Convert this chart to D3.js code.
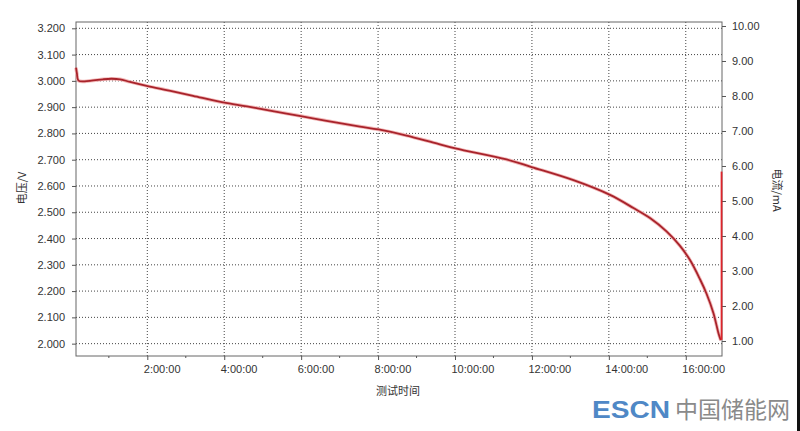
<!DOCTYPE html>
<html>
<head>
<meta charset="utf-8">
<script src="https://cdn.jsdelivr.net/npm/d3@7"></script>
<style>
  body { margin: 0; background: #fff; }
  .axis text { font-family: "Liberation Sans", Arial, sans-serif; font-size: 11px; fill: #333; }
  .axis path, .axis line { stroke: #555; }
</style>
</head>
<body>
<div id="chart"></div>
<script>

// measured test time (hours) and cell voltage (V)
var timeHours = [0.146, 0.17, 0.21, 0.51, 0.85, 1.07, 1.29, 1.55, 2.01, 2.57, 3.19, 3.97, 4.59, 5.19, 5.99,
  6.66, 7.53, 8.01, 8.74, 9.44, 10.01, 11.34, 11.99, 13.08, 14.03, 14.64, 15.07, 15.50, 15.85, 16.11,
  16.37, 16.54, 16.72, 16.85, 16.91];
var voltage = [3.050, 3.028, 3.001, 3.000, 3.006, 3.008, 3.006, 2.996, 2.980, 2.963, 2.943, 2.918, 2.903,
  2.887, 2.866, 2.848, 2.826, 2.815, 2.792, 2.765, 2.743, 2.701, 2.672, 2.622, 2.566, 2.516, 2.478, 2.427,
  2.372, 2.318, 2.245, 2.190, 2.116, 2.040, 2.013];

// current trace (mA) - only visible at the end of the test
var currentTime = [16.93, 16.93];
var current = [1.03, 5.84];

// tick values
var voltTicks = [2.0, 2.1, 2.2, 2.3, 2.4, 2.5, 2.6, 2.7, 2.8, 2.9, 3.0, 3.1, 3.2];
var currTicks = [1, 2, 3, 4, 5, 6, 7, 8, 9, 10];
var hourTicks = [2, 4, 6, 8, 10, 12, 14, 16];
var minorHourTicks = [1, 3, 5, 7, 9, 11, 13, 15];

var width = 800, height = 431;
var plot = {left: 76, top: 22, right: 722, bottom: 356};

var svg = d3.select("#chart")
  .append("svg")
    .attr("width", width)
    .attr("height", height);

var x = d3.scaleLinear()
  .domain([0.146, 16.942])
  .range([plot.left, plot.right]);

var yV = d3.scaleLinear()
  .domain([1.953, 3.224])
  .range([plot.bottom, plot.top]);

var yI = d3.scaleLinear()
  .domain([0.571, 10.114])
  .range([plot.bottom, plot.top]);

// dotted grid
svg.append("g")
  .selectAll("line")
  .data(voltTicks)
  .enter()
  .append("line")
    .attr("x1", plot.left)
    .attr("x2", plot.right)
    .attr("y1", function(d) { return yV(d) })
    .attr("y2", function(d) { return yV(d) })
    .attr("stroke", "#444")
    .attr("stroke-dasharray", "1,2");

svg.append("g")
  .selectAll("line")
  .data(hourTicks)
  .enter()
  .append("line")
    .attr("x1", function(d) { return x(d) })
    .attr("x2", function(d) { return x(d) })
    .attr("y1", plot.top)
    .attr("y2", plot.bottom)
    .attr("stroke", "#444")
    .attr("stroke-dasharray", "1,2");

// frame
svg.append("rect")
  .attr("x", plot.left)
  .attr("y", plot.top)
  .attr("width", plot.right - plot.left)
  .attr("height", plot.bottom - plot.top)
  .attr("fill", "none")
  .attr("stroke", "#666");

// left axis (voltage)
var leftAxis = svg.append("g")
  .attr("class", "axis")
  .attr("transform", "translate(" + plot.left + ",0)")
  .call(d3.axisLeft(yV).tickValues(voltTicks).tickSize(4).tickPadding(7).tickFormat(d3.format(".3f")));
leftAxis.select(".domain").remove();

// right axis (current)
var rightAxis = svg.append("g")
  .attr("class", "axis")
  .attr("transform", "translate(" + plot.right + ",0)")
  .call(d3.axisRight(yI).tickValues(currTicks).tickSize(4).tickPadding(6).tickFormat(d3.format(".2f")));
rightAxis.select(".domain").remove();

// bottom axis (time)
var bottomAxis = svg.append("g")
  .attr("class", "axis")
  .attr("transform", "translate(0," + plot.bottom + ")")
  .call(d3.axisBottom(x).tickValues(hourTicks).tickSize(4).tickPadding(5)
    .tickFormat(function(d) { return d + ":00:00" }));
bottomAxis.select(".domain").remove();
bottomAxis.selectAll("text")
  .attr("text-anchor", "start")
  .attr("x", -4);

svg.append("g")
  .selectAll("line")
  .data(minorHourTicks)
  .enter()
  .append("line")
    .attr("x1", function(d) { return x(d) })
    .attr("x2", function(d) { return x(d) })
    .attr("y1", plot.bottom)
    .attr("y2", plot.bottom + 2)
    .attr("stroke", "#555");

// axis titles
svg.append("text")
  .attr("transform", "translate(26,188) rotate(-90)")
  .attr("text-anchor", "middle")
  .style("font-family", "'Noto Sans CJK SC', sans-serif")
  .style("font-size", "11px")
  .style("fill", "#333")
  .text("电压/V");

svg.append("text")
  .attr("transform", "translate(773,190) rotate(90)")
  .attr("text-anchor", "middle")
  .style("font-family", "'Noto Sans CJK SC', sans-serif")
  .style("font-size", "11px")
  .style("fill", "#333")
  .text("电流/mA");

svg.append("text")
  .attr("x", 398)
  .attr("y", 395)
  .attr("text-anchor", "middle")
  .style("font-family", "'Noto Sans CJK SC', sans-serif")
  .style("font-size", "11px")
  .style("fill", "#333")
  .text("测试时间");

// voltage curve
var voltData = timeHours.map(function(t, i) { return {t: t, v: voltage[i]} });
var voltLine = d3.line()
  .curve(d3.curveCatmullRom.alpha(0.5))
  .x(function(d) { return x(d.t) })
  .y(function(d) { return yV(d.v) });
svg.append("path")
  .datum(voltData)
  .attr("fill", "none")
  .attr("stroke", "#f2b8b8")
  .attr("stroke-width", 3.5)
  .attr("d", voltLine);
svg.append("path")
  .datum(voltData)
  .attr("fill", "none")
  .attr("stroke", "#a8232b")
  .attr("stroke-width", 1.8)
  .attr("d", voltLine);

// current trace
var currData = currentTime.map(function(t, i) { return {t: t, c: current[i]} });
svg.append("path")
  .datum(currData)
  .attr("fill", "none")
  .attr("stroke", "#e0242b")
  .attr("stroke-width", 1.8)
  .attr("d", d3.line()
    .x(function(d) { return x(d.t) })
    .y(function(d) { return yI(d.c) }));

// watermark
var mark = svg.append("text")
  .attr("x", 592)
  .attr("y", 418);
mark.append("tspan")
  .style("font-family", "'Liberation Sans', Arial, sans-serif")
  .style("font-weight", "bold")
  .style("font-size", "24px")
  .style("fill", "#4f88c6")
  .attr("textLength", 78)
  .attr("lengthAdjust", "spacingAndGlyphs")
  .text("ESCN");
mark.append("tspan")
  .attr("x", 675)
  .style("font-family", "'Noto Sans CJK SC', sans-serif")
  .style("font-size", "23px")
  .style("fill", "#8a8a8a")
  .text("中国储能网");

// dark strip on the right edge
svg.append("rect")
  .attr("x", 797)
  .attr("y", 0)
  .attr("width", 3)
  .attr("height", height)
  .attr("fill", "#111");

</script>
</body>
</html>
